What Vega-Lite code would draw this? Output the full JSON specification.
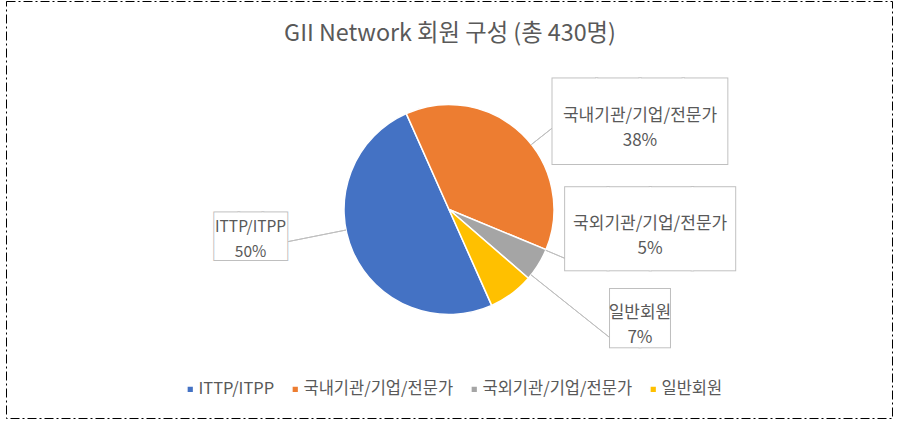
{
  "$schema": "https://vega.github.io/schema/vega-lite/v6.json",
  "width": 886,
  "height": 417,
  "autosize": "none",
  "padding": {"left": 6, "top": 1, "right": 13, "bottom": 11},
  "background": "#ffffff",
  "view": {"stroke": "#000000", "strokeWidth": 1, "strokeDash": [9, 3, 2, 3]},
  "title": {
    "text": "GII Network 회원 구성 (총 430명)",
    "font": "Noto Sans CJK KR",
    "fontSize": 23.3,
    "fontWeight": "normal",
    "color": "#595959",
    "orient": "none",
    "anchor": "middle",
    "frame": "group",
    "baseline": "top",
    "dy": 22,
    "dx": 444
  },
  "data": {
    "values": [
      {"cat": "ITTP/ITPP", "value": 215, "order": 1, "label": "ITTP/ITPP\n50%"},
      {"cat": "국내기관/기업/전문가", "value": 163, "order": 2, "label": "국내기관/기업/전문가\n38%"},
      {"cat": "국외기관/기업/전문가", "value": 22, "order": 3, "label": "국외기관/기업/전문가\n5%"},
      {"cat": "일반회원", "value": 30, "order": 4, "label": "일반회원\n7%"}
    ]
  },
  "encoding": {
    "theta": {"field": "value", "type": "quantitative", "stack": true, "scale": {"range": [2.7227, 9.0059]}},
    "order": {"field": "order", "type": "quantitative"}
  },
  "layer": [
    {
      "mark": {"type": "arc", "radius": 105, "stroke": "#ffffff", "strokeWidth": 1.5},
      "encoding": {
        "color": {
          "field": "cat",
          "type": "nominal",
          "scale": {
            "domain": ["ITTP/ITPP", "국내기관/기업/전문가", "국외기관/기업/전문가", "일반회원"],
            "range": ["#4472C4", "#ED7D31", "#A5A5A5", "#FFC000"]
          },
          "legend": {
            "title": null,
            "orient": "none",
            "legendX": 176,
            "legendY": 380,
            "direction": "horizontal",
            "symbolType": "square",
            "symbolSize": 45,
            "labelFont": "Noto Sans CJK KR",
            "labelFontSize": 16.5,
            "labelColor": "#595959",
            "labelOffset": 0,
            "columnPadding": 12,
            "padding": 0
          }
        }
      }
    },
    {
      "mark": {"type": "arc", "radius": 168, "innerRadius": 105, "padAngle": 3, "thetaOffset": 0.222, "fillOpacity": 0, "stroke": "#bfbfbf", "strokeWidth": 1},
      "encoding": {"strokeOpacity": {"condition": {"test": "datum.order === 1", "value": 1}, "value": 0}}
    },
    {
      "mark": {"type": "arc", "radius": 136, "innerRadius": 105, "padAngle": 3, "thetaOffset": 0.131, "fillOpacity": 0, "stroke": "#bfbfbf", "strokeWidth": 1},
      "encoding": {"strokeOpacity": {"condition": {"test": "datum.order === 2", "value": 1}, "value": 0}}
    },
    {
      "mark": {"type": "arc", "radius": 128, "innerRadius": 105, "padAngle": 3, "thetaOffset": -0.154, "fillOpacity": 0, "stroke": "#bfbfbf", "strokeWidth": 1},
      "encoding": {"strokeOpacity": {"condition": {"test": "datum.order === 3", "value": 1}, "value": 0}}
    },
    {
      "mark": {"type": "arc", "radius": 206, "innerRadius": 105, "padAngle": 3, "thetaOffset": -0.26, "fillOpacity": 0, "stroke": "#bfbfbf", "strokeWidth": 1},
      "encoding": {"strokeOpacity": {"condition": {"test": "datum.order === 4", "value": 1}, "value": 0}}
    },
    {
      "mark": {"type": "text", "radius": 200, "thetaOffset": 0.293, "dy": 3, "font": "DejaVu Sans Mono", "fontSize": 40, "fill": "#ffffff", "stroke": "#bfbfbf", "strokeWidth": 2, "align": "center", "baseline": "middle"},
      "encoding": {"text": {"condition": {"test": "datum.order === 1", "value": "███"}, "value": ""}}
    },
    {
      "mark": {"type": "text", "radius": 200, "thetaOffset": 0.293, "dy": 3, "font": "DejaVu Sans Mono", "fontSize": 40, "fill": "#ffffff", "align": "center", "baseline": "middle"},
      "encoding": {"text": {"condition": {"test": "datum.order === 1", "value": "███"}, "value": ""}}
    },
    {
      "mark": {"type": "text", "radius": 200, "thetaOffset": 0.293, "dy": -8, "font": "Noto Sans CJK KR", "fontSize": 15.5, "lineBreak": "\n", "lineHeight": 25, "fill": "#595959", "align": "center", "baseline": "middle"},
      "encoding": {"text": {"condition": {"test": "datum.order === 1", "field": "label"}, "value": ""}}
    },
    {
      "mark": {"type": "text", "radius": 211, "thetaOffset": 0.36, "dy": 4, "font": "DejaVu Sans Mono", "fontSize": 72, "fill": "#ffffff", "stroke": "#bfbfbf", "strokeWidth": 2, "align": "center", "baseline": "middle"},
      "encoding": {"text": {"condition": {"test": "datum.order === 2", "value": "████"}, "value": ""}}
    },
    {
      "mark": {"type": "text", "radius": 211, "thetaOffset": 0.36, "dy": 4, "font": "DejaVu Sans Mono", "fontSize": 72, "fill": "#ffffff", "align": "center", "baseline": "middle"},
      "encoding": {"text": {"condition": {"test": "datum.order === 2", "value": "████"}, "value": ""}}
    },
    {
      "mark": {"type": "text", "radius": 211, "thetaOffset": 0.36, "dy": -4, "font": "Noto Sans CJK KR", "fontSize": 17, "lineBreak": "\n", "lineHeight": 25, "fill": "#595959", "align": "center", "baseline": "middle"},
      "encoding": {"text": {"condition": {"test": "datum.order === 2", "field": "label"}, "value": ""}}
    },
    {
      "mark": {"type": "text", "radius": 202, "thetaOffset": -0.461, "dy": 4, "font": "DejaVu Sans Mono", "fontSize": 70, "fill": "#ffffff", "stroke": "#bfbfbf", "strokeWidth": 2, "align": "center", "baseline": "middle"},
      "encoding": {"text": {"condition": {"test": "datum.order === 3", "value": "████"}, "value": ""}}
    },
    {
      "mark": {"type": "text", "radius": 202, "thetaOffset": -0.461, "dy": 4, "font": "DejaVu Sans Mono", "fontSize": 70, "fill": "#ffffff", "align": "center", "baseline": "middle"},
      "encoding": {"text": {"condition": {"test": "datum.order === 3", "value": "████"}, "value": ""}}
    },
    {
      "mark": {"type": "text", "radius": 202, "thetaOffset": -0.461, "dy": -4, "font": "Noto Sans CJK KR", "fontSize": 17, "lineBreak": "\n", "lineHeight": 25, "fill": "#595959", "align": "center", "baseline": "middle"},
      "encoding": {"text": {"condition": {"test": "datum.order === 3", "field": "label"}, "value": ""}}
    },
    {
      "mark": {"type": "text", "radius": 219, "thetaOffset": -0.421, "dy": 3, "font": "DejaVu Sans Mono", "fontSize": 49, "fill": "#ffffff", "stroke": "#bfbfbf", "strokeWidth": 2, "align": "center", "baseline": "middle"},
      "encoding": {"text": {"condition": {"test": "datum.order === 4", "value": "██"}, "value": ""}}
    },
    {
      "mark": {"type": "text", "radius": 219, "thetaOffset": -0.421, "dy": 3, "font": "DejaVu Sans Mono", "fontSize": 49, "fill": "#ffffff", "align": "center", "baseline": "middle"},
      "encoding": {"text": {"condition": {"test": "datum.order === 4", "value": "██"}, "value": ""}}
    },
    {
      "mark": {"type": "text", "radius": 219, "thetaOffset": -0.421, "dy": -4, "font": "Noto Sans CJK KR", "fontSize": 17, "lineBreak": "\n", "lineHeight": 25, "fill": "#595959", "align": "center", "baseline": "middle"},
      "encoding": {"text": {"condition": {"test": "datum.order === 4", "field": "label"}, "value": ""}}
    }
  ],
  "config": {
    "style": {"view": {"stroke": "#000000", "strokeWidth": 1, "strokeDash": [9, 3, 2, 3]}}
  }
}
